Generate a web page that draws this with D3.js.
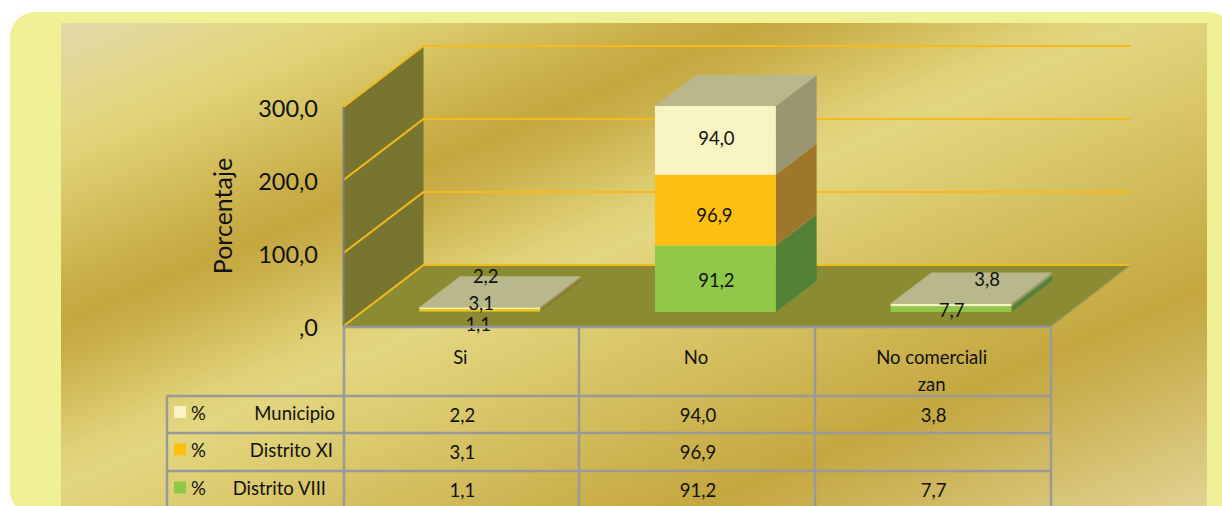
<!DOCTYPE html>
<html><head><meta charset="utf-8">
<script src="https://cdn.jsdelivr.net/npm/d3@7"></script>
<style>html,body{margin:0;padding:0;background:#fff;overflow:hidden}svg{display:block}text{font-family:Lato,"Open Sans",sans-serif;fill:#111}</style>
</head><body><svg id="c" width="1222" height="506"></svg>
<script>
const categories = ["Si", "No", "No comerciali\nzan"];
const distritoVIII = [1.1, 91.2, 7.7];
const distritoXI = [3.1, 96.9, null];
const municipio = [2.2, 94.0, 3.8];
const yTicks = [0, 100, 200, 300];

const fmt = v => v === 0 ? ",0" : v.toFixed(1).replace(".", ",");
const svg = d3.select("#c");

// frame
const left = 343.5, right = 1050.5, y0 = 326, y300 = 107, dx = 80, dy = -61;
const x = d3.scaleBand().domain(d3.range(categories.length)).range([left, right]);
const y = d3.scaleLinear().domain([0, 300]).range([y0, y300]);
const P = (px, py, depth) => [px + dx * depth, py + dy * depth];
const poly = pts => pts.map(p => p.join(",")).join(" ");

// panel
svg.append("rect").attr("x", 10).attr("y", 12).attr("width", 1224).attr("height", 504).attr("rx", 25).attr("fill", "#f0f096");
const ux = .395, uy = .919, s0 = 45, s1 = 942;
const stops = [[45, "#e3d9ab"], [140, "#e3d681"], [170, "#e0d276"], [290, "#c9ae48"], [321, "#c4a73f"], [350, "#c9ae49"],
  [440, "#e0d177"], [470, "#e3d681"], [505, "#e0d178"], [700, "#c9ae49"], [740, "#c4a73f"], [780, "#c9ae4e"], [942, "#e2d393"]];
const g = svg.append("defs").append("linearGradient").attr("id", "gold").attr("gradientUnits", "userSpaceOnUse")
  .attr("x1", 61).attr("y1", 23).attr("x2", 61 + ux * (s1 - s0)).attr("y2", 23 + uy * (s1 - s0));
g.selectAll("stop").data(stops).join("stop").attr("offset", d => (d[0] - s0) / (s1 - s0)).attr("stop-color", d => d[1]);
svg.append("rect").attr("x", 61).attr("y", 23).attr("width", 1146).attr("height", 500).attr("fill", "url(#gold)");

// walls and floor
svg.append("polygon").attr("points", poly([[left, y0], [left, y300], P(left, y300, 1), P(left, y0, 1)])).attr("fill", "#787530");
svg.append("polygon").attr("points", poly([[left, y0], [right, y0 + 1], P(right, y0, 1), P(left, y0, 1)])).attr("fill", "#8b8b33");

// gridlines
const grid = "#f6bb1a";
yTicks.forEach(t => {
  const a = [left, y(t)], b = P(left, y(t), 1), c = P(right, y(t), 1);
  svg.append("polyline").attr("points", poly([a, b, c])).attr("fill", "none").attr("stroke", grid).attr("stroke-width", 2);
});
svg.append("line").attr("x1", right).attr("y1", y0 + 1).attr("x2", right + dx).attr("y2", y0 + dy)
  .attr("stroke", "#a3a05a").attr("stroke-width", 1.2);
svg.append("line").attr("x1", left).attr("x2", left).attr("y1", y300).attr("y2", y0).attr("stroke", "#808080").attr("stroke-width", 2);

// bars
const depthFront = .23, depthBack = .74, barFrac = .513;
const colors = {front: ["#8fc749", "#fdbf10", "#f7f3c3"], side: ["#548138", "#9f772a", "#9a9672"]};
const topColor = "#b8b88c";
const series = [distritoVIII, distritoXI, municipio];
const bw = x.bandwidth() * barFrac;
categories.forEach((_, i) => {
  const bx = x(i) + (x.bandwidth() - bw) / 2;
  let acc = 0, tip = null;
  series.forEach((s, k) => {
    const v = s[i];
    if (v == null) return;
    const bot = y(acc), topY = y(acc + v);
    acc += v;
    const fl = P(bx, bot, depthFront), fr = P(bx + bw, bot, depthFront);
    const tl = P(bx, topY, depthFront), tr = P(bx + bw, topY, depthFront);
    const sb = P(bx + bw, bot, depthBack), st = P(bx + bw, topY, depthBack);
    svg.append("polygon").attr("points", poly([fr, tr, st, sb])).attr("fill", colors.side[k]);
    svg.append("polygon").attr("points", poly([fl, tl, tr, fr])).attr("fill", colors.front[k]);
    tip = {tl, tr, st, bl: P(bx, topY, depthBack)};
  });
  svg.append("polygon").attr("points", poly([tip.tl, tip.tr, tip.st, tip.bl])).attr("fill", topColor);
});

// bar value labels: offset from the centre of each segment's front face
const nudges = [
  [[-1.5, 12], [1.5, -7], [6, -32]],
  [[1, 1], [-1, 5], [1, -2]],
  [[0.5, 1], null, [36, -26]]
];
categories.forEach((_, i) => {
  const cx = x(i) + x.bandwidth() / 2;
  let acc = 0;
  series.forEach((s, k) => {
    const v = s[i];
    if (v == null) return;
    acc += v;
    const n = nudges[i][k];
    const p = P(cx, y(acc - v / 2), depthFront);
    svg.append("text").attr("x", p[0] + n[0]).attr("y", p[1] + n[1])
      .attr("text-anchor", "middle").attr("dominant-baseline", "central").attr("font-size", 18.5).text(fmt(v));
  });
});

// y axis labels
yTicks.forEach(t => {
  svg.append("text").attr("x", 318).attr("y", y(t) + 1).attr("text-anchor", "end").attr("dominant-baseline", "central")
    .attr("font-size", 23.5).text(fmt(t));
});
svg.append("text").attr("transform", "translate(222,216) rotate(-90)").attr("text-anchor", "middle")
  .attr("dominant-baseline", "central").attr("font-size", 25).text("Porcentaje");

// data table
const rowLines = [396, 433, 471, 509];
const tableLeft = 166.5, gridGray = "#999999";
const tb = svg.append("g").attr("stroke", gridGray).attr("stroke-width", 2.5);
tb.append("line").attr("x1", left).attr("x2", right).attr("y1", y0 + 1).attr("y2", y0 + 1);
rowLines.forEach(r => tb.append("line").attr("x1", tableLeft).attr("x2", right).attr("y1", r).attr("y2", r));
tb.append("line").attr("x1", Math.round(tableLeft)).attr("x2", Math.round(tableLeft)).attr("y1", rowLines[0]).attr("y2", 509);
d3.range(categories.length + 1).forEach(i => {
  const lx = Math.round(i < categories.length ? x(i) : right);
  tb.append("line").attr("x1", lx).attr("x2", lx).attr("y1", y0).attr("y2", 509);
});

const cellFont = 18.5;
categories.forEach((c, i) => {
  const cx = x(i) + x.bandwidth() / 2 - 1;
  c.split("\n").forEach((ln, j) => svg.append("text").attr("x", cx).attr("y", 357 + 27 * j).attr("text-anchor", "middle")
    .attr("dominant-baseline", "central").attr("font-size", cellFont).text(ln));
});
const rows = [municipio, distritoXI, distritoVIII];
const rowNames = ["Municipio", "Distrito XI", "Distrito VIII"];
const rowEnds = [335, 333, 326];
const rowSw = ["#f7f3c3", "#fdbf10", "#8fc749"];
rows.forEach((r, k) => {
  const my = (rowLines[k] + rowLines[k + 1]) / 2;
  svg.append("rect").attr("x", 174).attr("y", my - 8.5).attr("width", 12).attr("height", 12).attr("fill", rowSw[k]);
  svg.append("text").attr("x", 191).attr("y", my - 2).attr("dominant-baseline", "central").attr("font-size", cellFont).text("%");
  svg.append("text").attr("x", rowEnds[k]).attr("y", my - 2).attr("text-anchor", "end").attr("dominant-baseline", "central").attr("font-size", cellFont).text(rowNames[k]);
  r.forEach((v, i) => {
    if (v == null) return;
    svg.append("text").attr("x", x(i) + x.bandwidth() / 2 + 1).attr("y", my).attr("text-anchor", "middle")
      .attr("dominant-baseline", "central").attr("font-size", cellFont).text(fmt(v));
  });
});
</script></body></html>
